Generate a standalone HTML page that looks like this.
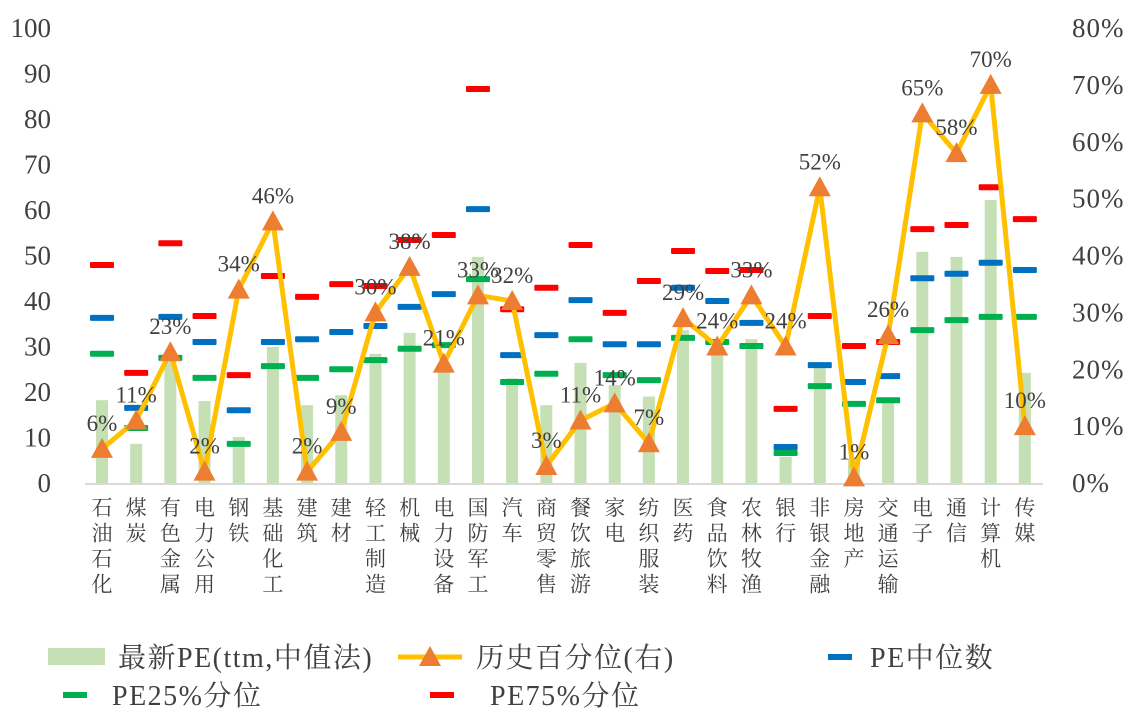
<!DOCTYPE html>
<html><head><meta charset="utf-8">
<style>
html,body{margin:0;padding:0;background:#fff;}
svg{display:block;font-family:"Liberation Serif","Noto Serif CJK SC","Noto Sans CJK SC",serif;}
</style></head>
<body>
<svg id="chart" width="1143" height="723" viewBox="0 0 1143 723" xmlns="http://www.w3.org/2000/svg">
<g id="axes"></g>
<g id="bars"></g>
<g id="dashes"></g>
<g id="line"></g>
<g id="xlabels"></g>
<g id="legend"></g>
</svg>
<script>
const categories = ["石油石化","煤炭","有色金属","电力公用","钢铁","基础化工","建筑","建材","轻工制造","机械","电力设备","国防军工","汽车","商贸零售","餐饮旅游","家电","纺织服装","医药","食品饮料","农林牧渔","银行","非银金融","房地产","交通运输","电子","通信","计算机","传媒"];
const peLatest = [18.2,8.6,27,18,10.1,29.9,17.1,19.3,28.4,33,25.3,49.7,23,17.1,26.4,21.5,19,33.6,29.7,31.6,5.7,25.9,5,18.2,50.8,49.7,62.2,24.2];
const pctHist = [6,11,23,2,34,46,2,9,30,38,21,33,32,3,11,14,7,29,24,33,24,52,1,26,65,58,70,10];
const peMedian = [36.3,16.5,36.5,31,16,31,31.6,33.2,34.5,38.7,41.5,60.2,28.1,32.5,40.2,30.5,30.5,42.9,40,35.2,7.9,25.9,22.2,23.5,45,46,48.4,46.8];
const pe25 = [28.4,12.1,27.5,23.1,8.6,25.7,23.1,25,27,29.5,30.3,44.8,22.2,24,31.6,23.7,22.6,31.9,31,30.1,6.6,21.3,17.4,18.2,33.6,35.8,36.5,36.5];
const pe75 = [47.9,24.2,52.7,36.7,23.7,45.5,40.9,43.7,43.3,53.4,54.5,86.6,38.2,42.9,52.3,37.4,44.4,51,46.6,46.8,16.3,36.7,30.1,31,55.8,56.7,65,58];
const leftTicks = [0,10,20,30,40,50,60,70,80,90,100];
const rightTicks = [0,10,20,30,40,50,60,70,80];

const NS="http://www.w3.org/2000/svg";
const Y0=483, Y1=28, X0=102, DX=34.18;
const yL=v=>Y0-(Y0-Y1)*v/100;
const yR=v=>Y0-(Y0-Y1)*v/80;
const xC=i=>X0+i*DX;
function mk(tag,attrs,parent,text){const e=document.createElementNS(NS,tag);for(const k in attrs)e.setAttribute(k,attrs[k]);if(text!==undefined)e.textContent=text;parent.appendChild(e);return e;}

const axes=document.getElementById('axes');
leftTicks.forEach(t=>{
  const e=mk('text',{x:51,y:yL(t)+9,'text-anchor':'end','font-size':27,fill:'#404040'},axes,String(t));
  
  
});
rightTicks.forEach(t=>{
  const e=mk('text',{x:1072,y:yR(t)+9,'text-anchor':'start','font-size':27,'letter-spacing':1,fill:'#404040'},axes,t+'%');
  
  
});
const base=mk('line',{x1:85,x2:1043,y1:Y0+1,y2:Y0+1,stroke:'#d9d9d9','stroke-width':2},axes);



const bars=document.getElementById('bars');
peLatest.forEach((v,i)=>{
  const r=mk('rect',{x:xC(i)-6,y:yL(v),width:12,height:Y0-yL(v),fill:'#c5e0b4'},bars);
  
  
});

const dashes=document.getElementById('dashes');
function dash(arr,color,name){arr.forEach((v,i)=>{
  const r=mk('rect',{x:xC(i)-12,y:yL(v)-3,width:24,height:6,rx:1,fill:color},dashes);
  
  
});}
dash(peMedian,'#0070c0','pe-median');
dash(pe25,'#00b050','pe25');
dash(pe75,'#ff0000','pe75');

const line=document.getElementById('line');
const pts=pctHist.map((v,i)=>xC(i)+','+yR(v)).join(' ');
const pl=mk('polyline',{points:pts,fill:'none',stroke:'#ffc000','stroke-width':5,'stroke-linejoin':'round'},line);


pctHist.forEach((v,i)=>{
  const x=xC(i),y=yR(v);
  const t=mk('polygon',{points:`${x},${y-11} ${x-11},${y+9} ${x+11},${y+9}`,fill:'#ed7d31'},line);
  
  
  const l=mk('text',{x:x,y:y-18,'text-anchor':'middle','font-size':23,fill:'#404040'},line,v+'%');
  
  
});

const xl=document.getElementById('xlabels');
categories.forEach((c,i)=>{
  [...c].forEach((ch,j)=>{
    const t=mk('text',{x:xC(i),y:515+j*25.5,'text-anchor':'middle','font-size':21,fill:'#404040'},xl,ch);
    
    
  });
});

const lg=document.getElementById('legend');
function legText(x,y,s){const t=mk('text',{x:x,y:y,'font-size':28,'letter-spacing':1.5,fill:'#404040'},lg,s);}
let s;
s=mk('rect',{x:48,y:648,width:57,height:17,fill:'#c5e0b4'},lg);
legText(118,667,'最新PE(ttm,中值法)');
s=mk('line',{x1:398,x2:462,y1:657,y2:657,stroke:'#ffc000','stroke-width':5},lg);
s=mk('polygon',{points:'430,646 419,666 441,666',fill:'#ed7d31'},lg);
legText(476,667,'历史百分位(右)');
s=mk('rect',{x:828,y:654,width:24,height:6,fill:'#0070c0'},lg);
legText(870,667,'PE中位数');
s=mk('rect',{x:63,y:692,width:24,height:6,fill:'#00b050'},lg);
legText(112,705,'PE25%分位');
s=mk('rect',{x:430,y:692,width:24,height:6,fill:'#ff0000'},lg);
legText(490,705,'PE75%分位');
</script>
</body></html>
